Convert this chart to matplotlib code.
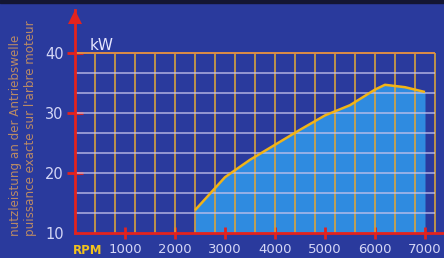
import matplotlib
matplotlib.use("Agg")
import matplotlib.pyplot as plt
import numpy as np

# ---- data ----
rpm = [2400, 3000, 3500, 4000, 4500, 5000, 5500, 6000, 6200, 6600, 7000]
kw = [13.8, 19.3, 22.2, 24.7, 27.2, 29.6, 31.3, 33.9, 34.7, 34.3, 33.5]
x_ticks = [1000, 2000, 3000, 4000, 5000, 6000, 7000]
x_tick_labels = ["1000", "2000", "3000", "4000", "5000", "6000", "7000"]
y_ticks = [10, 20, 30, 40]
y_tick_labels = ["10", "20", "30", "40"]
v_grid = list(range(400, 7201, 400))
h_grid = [10 + i * 10 / 3 for i in range(10)]
y_title_1 = "nutzleistung an der Antriebswelle"
y_title_2 = "puissance exacte sur l'arbre moteur"
x_name = "RPM"
unit = "kW"

BG = "#2a3a9d"
RED = "#e3231e"
FILL = "#2f8be0"
VGRID = "#dba43a"
HGRID = "#c4c2ec"
CURVE = "#f2b416"
LABEL = "#d4d6f6"
TAN = "#b98a66"

W, H = 444, 258
fig = plt.figure(figsize=(W / 100, H / 100), dpi=100, facecolor=BG)
# dark band at top
fig.patches.append(plt.Rectangle((0, 1 - 3 / H), 1, 3 / H, transform=fig.transFigure,
                                 color="#141633", zorder=0))

ax = fig.add_axes([75 / W, (H - 233) / H, (W - 75) / W, (233 - 10) / H])
ax.set_facecolor(BG)
xmax = (W - 75) / 50 * 1000
ymax = 10 + (233 - 10) / 6
ax.set_xlim(0, xmax)
ax.set_ylim(10, ymax)

# fill under curve
ax.fill_between(rpm, kw, 10, color=FILL, lw=0, zorder=1)

# grid
ax.vlines(v_grid, 10, 40, colors=VGRID, lw=1.3, alpha=0.9, zorder=2)
ax.hlines(h_grid[1:], 0, 7200, colors=HGRID, lw=1.2, alpha=0.8, zorder=2)
ax.hlines([40], 0, 7200, colors="#e08a3a", lw=1.3, zorder=2)

# curve
ax.plot(rpm, kw, color=CURVE, lw=1.8, zorder=3, solid_capstyle="butt")

# spines
for s in ["top", "right"]:
    ax.spines[s].set_visible(False)
for s in ["left", "bottom"]:
    ax.spines[s].set_color(RED)
    ax.spines[s].set_linewidth(2.0)
    ax.spines[s].set_zorder(4)

# arrow head on y-axis
ax.plot([0], [46.0], marker="^", markersize=10, color=RED, clip_on=False, zorder=5, mew=0)

ax.set_xticks(x_ticks)
ax.set_xticklabels(x_tick_labels)
ax.set_yticks(y_ticks)
ax.set_yticklabels(y_tick_labels)
ax.tick_params(axis="x", direction="inout", length=9, width=2, color=RED,
               labelcolor=LABEL, labelsize=9.5, pad=2.5)
ax.tick_params(axis="y", direction="inout", length=12, width=2, color=RED,
               labelcolor=LABEL, labelsize=10.5, pad=2)
ax.yaxis.get_major_ticks()[0].tick1line.set_visible(False)

# texts
fig.text(88 / W, 1 - 250 / H, x_name, color="#f2c21c", fontsize=8.5, fontweight="bold",
         ha="center", va="center")
fig.text(102 / W, 1 - 45 / H, unit, color="#e6e6ff", fontsize=11, ha="center", va="center")
fig.text(16 / W, 1 - 135 / H, y_title_1, color=TAN, fontsize=8.6, rotation=90,
         ha="center", va="center")
fig.text(31 / W, 1 - 128 / H, y_title_2, color=TAN, fontsize=8.6, rotation=90,
         ha="center", va="center")

fig.savefig("out.png", dpi=100, facecolor=BG)
